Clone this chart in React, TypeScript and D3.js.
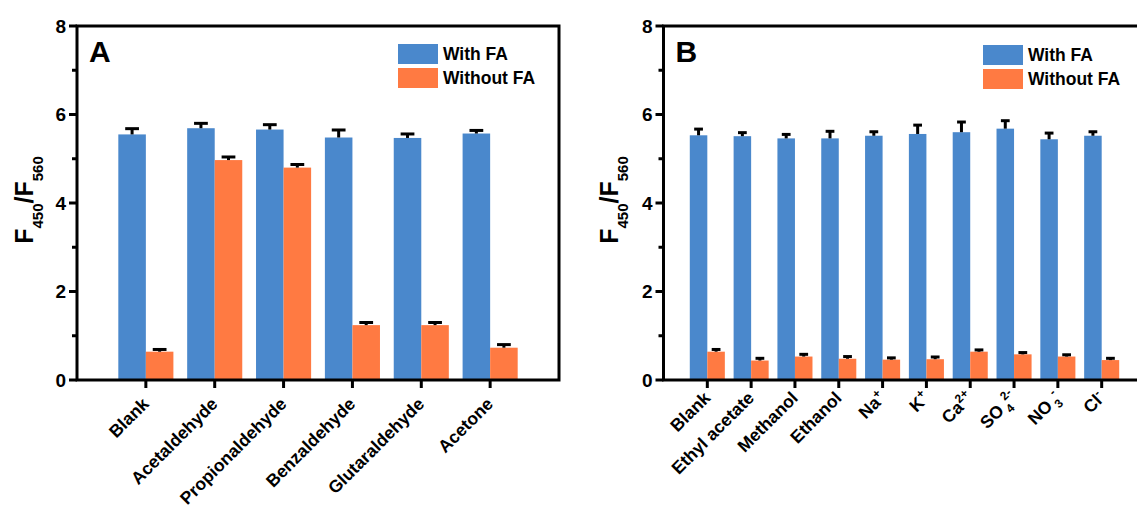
import React from "react";
import * as d3 from "d3";

const FONT = "'Liberation Sans', Arial, Helvetica, sans-serif";
const BLUE = "#4a88cc";
const ORANGE = "#ff7a42";

// panel A: aldehydes / ketone
const catsA = ["Blank", "Acetaldehyde", "Propionaldehyde", "Benzaldehyde", "Glutaraldehyde", "Acetone"];
const withA = [5.55, 5.69, 5.66, 5.48, 5.47, 5.57];
const withAErr = [0.13, 0.11, 0.11, 0.17, 0.09, 0.07];
const withoutA = [0.64, 4.97, 4.8, 1.24, 1.24, 0.73];
const withoutAErr = [0.05, 0.07, 0.07, 0.06, 0.06, 0.07];

// panel B: solvents / ions
const catsB = ["Blank", "Ethyl acetate", "Methanol", "Ethanol", "Na+", "K+", "Ca2+", "SO42-", "NO3-", "Cl-"];
const withB = [5.53, 5.51, 5.46, 5.46, 5.52, 5.56, 5.6, 5.68, 5.44, 5.52];
const withBErr = [0.14, 0.08, 0.09, 0.16, 0.09, 0.2, 0.23, 0.18, 0.14, 0.09];
const withoutB = [0.64, 0.44, 0.53, 0.48, 0.46, 0.47, 0.64, 0.58, 0.53, 0.45];
const withoutBErr = [0.05, 0.05, 0.05, 0.05, 0.04, 0.05, 0.04, 0.04, 0.04, 0.04];

const yTicks = [0, 2, 4, 6, 8];
const yMinor = [1, 3, 5, 7];
const seriesNames = ["With FA", "Without FA"];

// chemistry labels: [text, "sub" | "sup" | undefined]
const chem: Record<string, [string, string?][]> = {
  "Na+": [["Na"], ["+", "sup"]],
  "K+": [["K"], ["+", "sup"]],
  "Ca2+": [["Ca"], ["2+", "sup"]],
  "SO42-": [["SO"], ["4", "sub"], ["2-", "supstack"]],
  "NO3-": [["NO"], ["3", "sub"], ["-", "supstack"]],
  "Cl-": [["Cl"], ["-", "sup"]],
};

function Label({ text }: { text: string }) {
  const parts = chem[text];
  if (!parts) return <>{text}</>;
  let shift = 0;
  return (
    <>
      {parts.map(([t, kind], i) => {
        let dx = 0;
        let target = 0;
        if (kind === "sup") target = -7;
        if (kind === "sub") { target = 5; dx = 3; }
        if (kind === "supstack") { target = -8; dx = -2; }
        const dy = target - shift;
        shift = target;
        return (
          <tspan key={i} dx={dx} dy={dy} fontSize={kind ? 12 : undefined}>{t}</tspan>
        );
      })}
    </>
  );
}

interface PanelProps {
  cats: string[];
  vals: number[][];
  errs: number[][];
  left: number;
  right: number;
  letter: string;
  legendX: number;
  legendY: number;
  titleX: number;
  labelY: number;
}

function Panel({ cats, vals, errs, left, right, letter, legendX, legendY, titleX, labelY }: PanelProps) {
  const top = 26;
  const bottom = 380;
  const x = d3.scaleLinear().domain([0, cats.length + 1]).range([left, right]);
  const y = d3.scaleLinear().domain([0, 8]).range([bottom, top]);
  const bw = x(0.4) - x(0);
  const colors = [BLUE, ORANGE];

  return (
    <g fontFamily={FONT} fontWeight="bold">
      {/* bars */}
      {vals.map((s, si) =>
        s.map((v, i) => {
          const cx = x(i + 1);
          const bx = si === 0 ? cx - bw : cx;
          return (
            <rect key={`b${si}-${i}`} x={bx} y={y(v)} width={bw} height={bottom - y(v)} fill={colors[si]} />
          );
        })
      )}
      {/* error bars (upper half only) */}
      {vals.map((s, si) =>
        s.map((v, i) => {
          const cx = x(i + 1) + (si === 0 ? -bw / 2 : bw / 2);
          const ye = y(v + errs[si][i]);
          const cw = bw * 0.5;
          return (
            <g key={`e${si}-${i}`} stroke="#000" strokeWidth={3}>
              <line x1={cx} x2={cx} y1={y(v)} y2={ye} />
              <line x1={cx - cw / 2} x2={cx + cw / 2} y1={ye} y2={ye} />
            </g>
          );
        })
      )}
      {/* frame */}
      <rect x={left} y={top} width={right - left} height={bottom - top} fill="none" stroke="#000" strokeWidth={3} />
      {/* y ticks */}
      {yTicks.map((t) => (
        <g key={`y${t}`}>
          <line x1={left - 8} x2={left} y1={y(t)} y2={y(t)} stroke="#000" strokeWidth={3} />
          <text x={left - 11} y={y(t)} dy="0.36em" textAnchor="end" fontSize={19}>{t}</text>
        </g>
      ))}
      {yMinor.map((t) => (
        <line key={`m${t}`} x1={left - 5} x2={left} y1={y(t)} y2={y(t)} stroke="#000" strokeWidth={3} />
      ))}
      {/* x ticks and labels */}
      {cats.map((c, i) => (
        <g key={`x${i}`}>
          <line x1={x(i + 1)} x2={x(i + 1)} y1={bottom} y2={bottom + 8} stroke="#000" strokeWidth={3} />
          <text transform={`translate(${x(i + 1) + 4},${labelY}) rotate(-45)`} textAnchor="end" fontSize={17.5}>
            <Label text={c} />
          </text>
        </g>
      ))}
      {/* y title */}
      <text transform={`translate(${titleX},200) rotate(-90)`} textAnchor="middle" fontSize={25}>
        F<tspan dy={10} fontSize={15}>450</tspan>
        <tspan dy={-10}>/F</tspan>
        <tspan dy={10} fontSize={15}>560</tspan>
      </text>
      {/* panel letter */}
      <text x={left + 12} y={62} fontSize={30}>{letter}</text>
      {/* legend */}
      {seriesNames.map((n, i) => (
        <g key={n}>
          <rect x={legendX} y={legendY + i * 24} width={40} height={20} fill={colors[i]} />
          <text x={legendX + 45} y={legendY + i * 24 + 16} fontSize={17.5}>{n}</text>
        </g>
      ))}
    </g>
  );
}

export default function App() {
  return (
    <svg width={1137} height={505} style={{ position: "absolute", left: 0, top: 0, background: "#fff" }}>
      <Panel
        cats={catsA}
        vals={[withA, withoutA]}
        errs={[withAErr, withoutAErr]}
        left={77}
        right={559}
        letter="A"
        legendX={398}
        legendY={44}
        titleX={33}
        labelY={405}
      />
      <Panel
        cats={catsB}
        vals={[withB, withoutB]}
        errs={[withBErr, withoutBErr]}
        left={663.5}
        right={1145.5}
        letter="B"
        legendX={983}
        legendY={45}
        titleX={618}
        labelY={399}
      />
    </svg>
  );
}
